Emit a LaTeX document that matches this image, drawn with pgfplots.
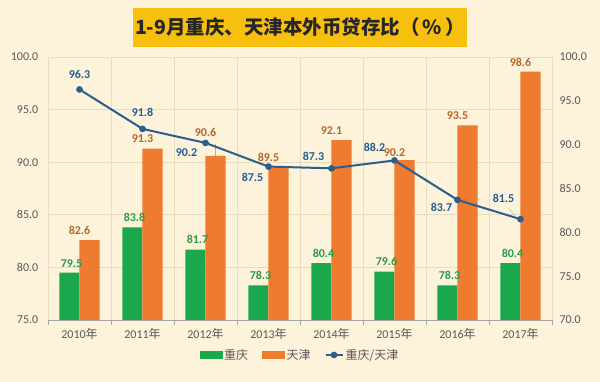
\documentclass[border=0pt]{standalone}
\usepackage{pgfplots}
\usepackage{pgfplotstable}
\pgfplotsset{compat=1.18}
\usepackage{fontspec}
\setmainfont{Carlito}
\newfontfamily\cjk{Noto Sans CJK SC}
\definecolor{bg}{HTML}{FDF3DB}
\definecolor{ttl}{HTML}{F7BF0E}
\definecolor{cg}{HTML}{1BA84C}
\definecolor{co}{HTML}{EE7B30}
\definecolor{cb}{HTML}{2B5E8C}
\definecolor{lblb}{HTML}{1F5F96}
\definecolor{lblg}{HTML}{2F9A4C}
\definecolor{lblo}{HTML}{B4672E}
\definecolor{grd}{HTML}{EADCBC}
\definecolor{tk}{HTML}{595959}
\pgfplotstableread{
x y dy
0 82.6 2
1 91.3 2
2 90.6 16
3 89.5 2
4 92.1 2
5 90.2 0
6 93.5 2
7 98.6 2
}\tianjin
\begin{document}
\begin{tikzpicture}[x=1pt,y=1pt]
\fill[bg] (-48,-62) rectangle (552,320);
\fill[ttl] (85,273) rectangle (419,312);
\node[font=\cjk\bfseries\fontsize{19.5}{19.5}\selectfont, text=black!85] at (252,292.5) {1-9月重庆、天津本外币贷存比（\,\%\,）};
\begin{axis}[
  at={(0pt,0pt)}, anchor=south west,
  scale only axis, width=504pt, height=263pt,
  xmin=-0.5, xmax=7.5, ymin=75, ymax=100,
  axis x line*=bottom, axis y line*=left,
  y axis line style={draw=none},
  x axis line style={draw=black!35, line width=0.6pt},
  xtick={0,...,7},
  xticklabels={2010{\cjk 年},2011{\cjk 年},2012{\cjk 年},2013{\cjk 年},2014{\cjk 年},2015{\cjk 年},2016{\cjk 年},2017{\cjk 年}},
  major x tick style={draw=none},
  minor xtick={-0.5,0.5,...,7.5},
  minor x tick style={draw=black!35, line width=0.6pt},
  minor tick length=5pt, tick align=outside,
  xminorgrids, minor x grid style={grd, line width=0.6pt},
  ytick={75,80,...,100},
  ytick style={draw=none},
  ymajorgrids, major y grid style={grd, line width=0.6pt},
  yticklabel style={xshift=-2pt, /pgf/number format/fixed, /pgf/number format/fixed zerofill, /pgf/number format/precision=1, /pgf/number format/assume math mode=true},
  tick label style={font=\fontsize{12}{12}\selectfont, text=tk},
  xticklabel style={yshift=-1pt},
  clip=true,
]
\addplot[ybar, bar width=0.32, bar shift=-0.16, fill=cg, draw=none,
  nodes near coords={\pgfmathprintnumber[fixed,fixed zerofill,precision=1,assume math mode=true]{\pgfplotspointmeta}},
  nodes near coords style={font=\bfseries\fontsize{12}{12}\selectfont, text=lblg, yshift=2pt, xshift=-8pt}]
  coordinates {(0,79.5) (1,83.8) (2,81.7) (3,78.3) (4,80.4) (5,79.6) (6,78.3) (7,80.4)};
\addplot[ybar, bar width=0.32, bar shift=0.16, fill=co, draw=none,
  visualization depends on={\thisrow{dy} \as \dy},
  nodes near coords={\pgfmathprintnumber[fixed,fixed zerofill,precision=1,assume math mode=true]{\pgfplotspointmeta}},
  nodes near coords style={font=\bfseries\fontsize{12}{12}\selectfont, text=lblo, yshift=\dy pt}]
  table[x=x, y=y] {\tianjin};
\draw[black!30, line width=0.4pt] (axis cs:2.16,90.6) -- ++(0pt,12pt);
\end{axis}
\begin{axis}[
  at={(0pt,0pt)}, anchor=south west,
  scale only axis, width=504pt, height=263pt,
  xmin=-0.5, xmax=7.5, ymin=70, ymax=100,
  axis x line=none, axis y line*=right,
  y axis line style={draw=none},
  ytick={70,75,...,100},
  ytick style={draw=none},
  yticklabel style={xshift=4pt, /pgf/number format/fixed, /pgf/number format/fixed zerofill, /pgf/number format/precision=1, /pgf/number format/assume math mode=true},
  tick label style={font=\fontsize{12}{12}\selectfont, text=tk},
  clip=false,
  legend style={at={(0.5,-0.133)}, anchor=center, legend columns=3, draw=none, fill=none,
    font=\cjk\fontsize{12}{12}\selectfont, text=tk,
    /tikz/every even column/.append style={column sep=12pt}},
]
\addlegendimage{legend image code/.code={\fill[cg] (0pt,-3.5pt) rectangle (22pt,3.5pt);}}
\addlegendentry{重庆}
\addlegendimage{legend image code/.code={\fill[co] (0pt,-3.5pt) rectangle (22pt,3.5pt);}}
\addlegendentry{天津}
\addplot[cb, line width=2pt, mark=*, mark size=2.3pt, mark options={fill=cb}]
  coordinates {(0,96.3) (1,91.8) (2,90.2) (3,87.5) (4,87.3) (5,88.2) (6,83.7) (7,81.5)};
\addlegendentry{重庆/天津}
\tikzset{vl/.style={font=\bfseries\fontsize{12}{12}\selectfont, text=lblb}}
\node[vl] at (axis cs:0,96.3) [xshift=0pt, yshift=15pt] {96.3};
\node[vl] at (axis cs:1,91.8) [xshift=0pt, yshift=16pt] {91.8};
\node[vl] at (axis cs:2,90.2) [xshift=-19pt, yshift=-10pt] {90.2};
\node[vl] at (axis cs:3,87.5) [xshift=-16pt, yshift=-11pt] {87.5};
\node[vl] at (axis cs:4,87.3) [xshift=-18pt, yshift=12pt] {87.3};
\node[vl] at (axis cs:5,88.2) [xshift=-20pt, yshift=13pt] {88.2};
\node[vl] at (axis cs:6,83.7) [xshift=-16pt, yshift=-8pt] {83.7};
\draw[black!30, line width=0.4pt] (axis cs:7,81.5) ++(-5pt,3pt) -- ++(-7pt,8pt);
\node[vl] at (axis cs:7,81.5) [xshift=-17pt, yshift=21pt] {81.5};
\end{axis}
\end{tikzpicture}
\end{document}
